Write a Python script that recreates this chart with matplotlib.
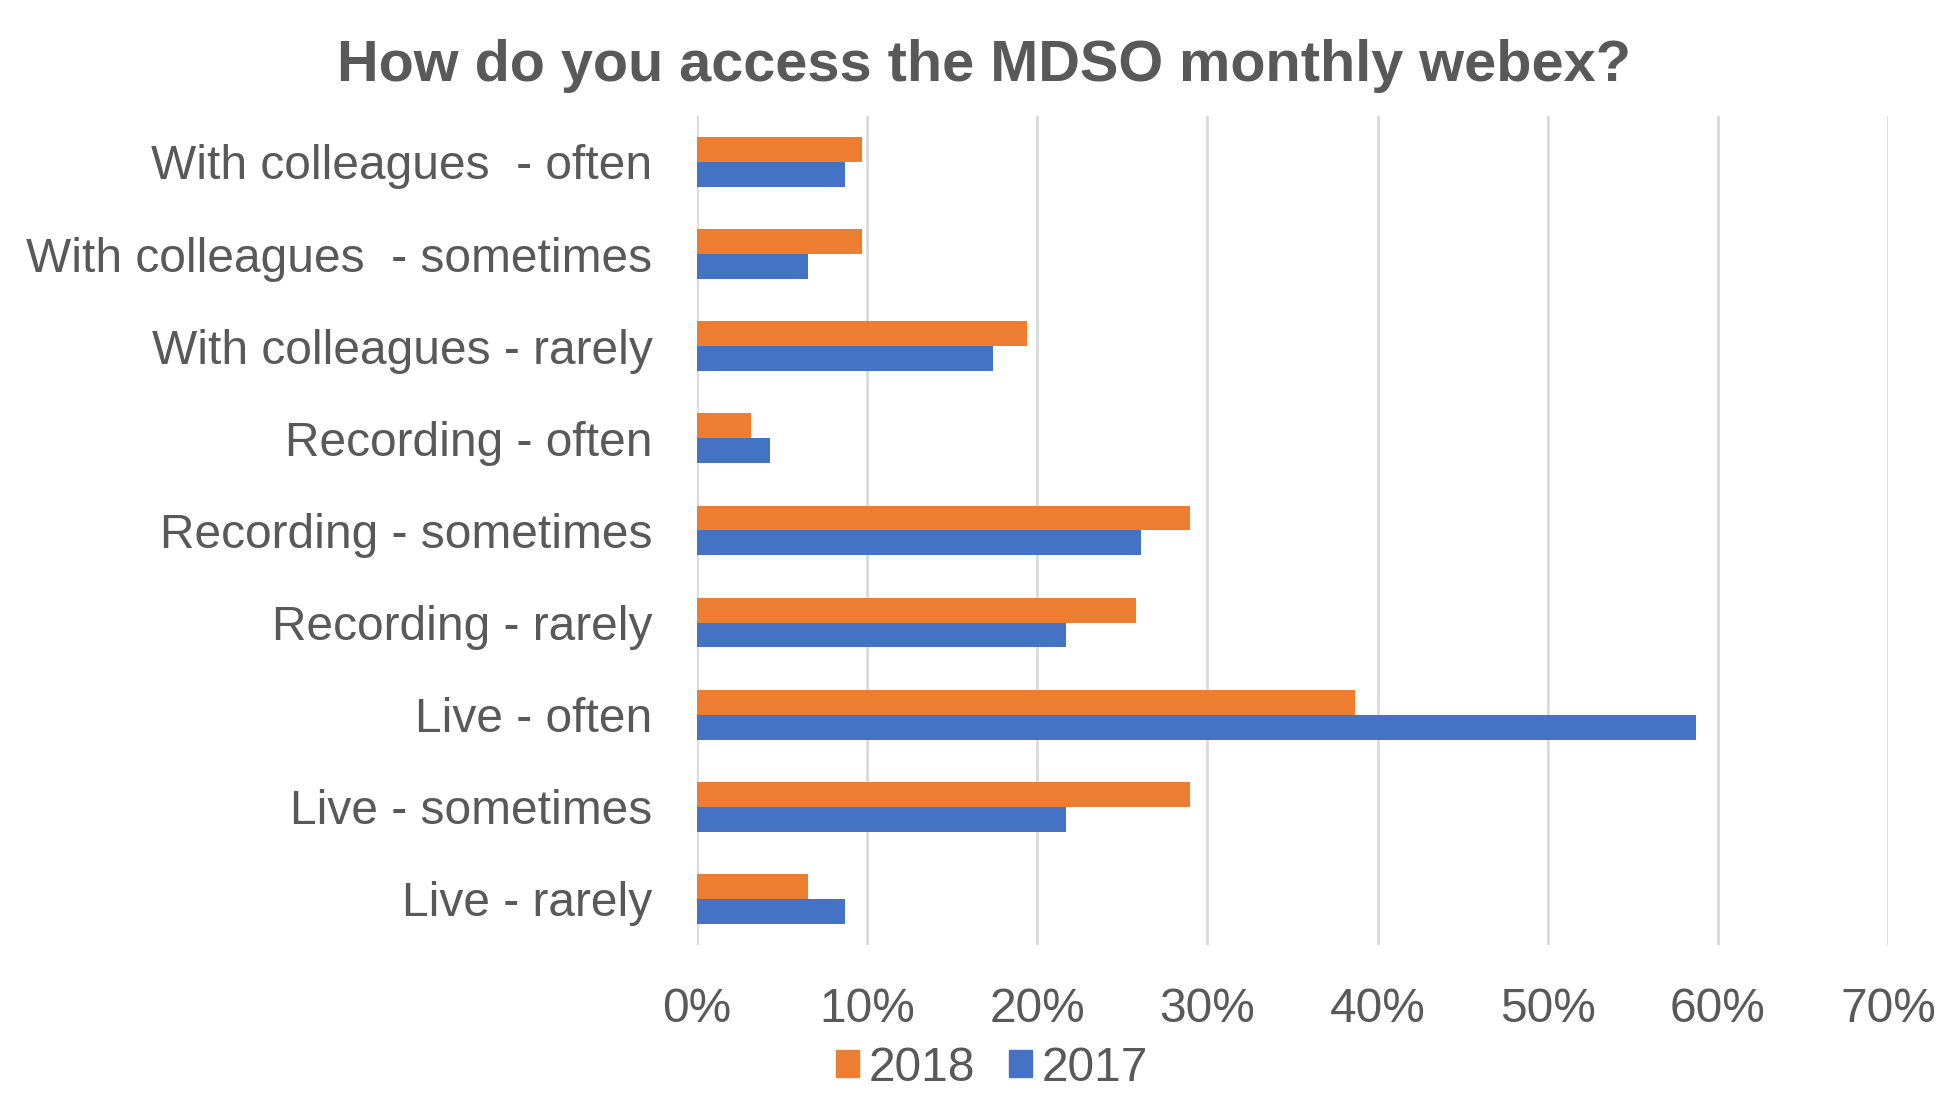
import matplotlib.pyplot as plt
import numpy as np
from matplotlib.patches import Patch
from matplotlib.ticker import PercentFormatter

categories = ["Live - rarely", "Live - sometimes", "Live - often",
              "Recording - rarely", "Recording - sometimes", "Recording - often",
              "With colleagues - rarely", "With colleagues  - sometimes",
              "With colleagues  - often"]
values_2018 = [6.5, 29.0, 38.7, 25.8, 29.0, 3.2, 19.4, 9.7, 9.7]
values_2017 = [8.7, 21.7, 58.7, 21.7, 26.1, 4.3, 17.4, 6.5, 8.7]
ticks = [0, 10, 20, 30, 40, 50, 60, 70]

orange = "#ED7D31"
blue = "#4472C4"
grey_text = "#595959"
grid_col = "#D9D9D9"

plt.rcParams['font.family'] = ['Liberation Sans', 'DejaVu Sans']

fig = plt.figure(figsize=(19.49, 10.93), dpi=100)
ax = fig.add_axes([0.3576, 0.1354, 0.6111, 0.7586])

y = np.arange(len(categories))
h = 0.27
ax.barh(y + h / 2, values_2018, height=h, color=orange, zorder=3)
ax.barh(y - h / 2, values_2017, height=h, color=blue, zorder=3)

ax.set_xlim(0, 70)
ax.set_ylim(-0.5, len(categories) - 0.5)
ax.set_xticks(ticks)
ax.xaxis.set_major_formatter(PercentFormatter(decimals=0))
ax.set_yticks(y)
ax.set_yticklabels(categories)

for s in ax.spines.values():
    s.set_visible(False)
ax.grid(axis='x', color=grid_col, linewidth=2, zorder=0)
ax.tick_params(axis='both', length=0, labelsize=34.5, labelcolor=grey_text)
ax.tick_params(axis='y', pad=32)
ax.tick_params(axis='x', pad=30)

fig.text(0.505, 0.94, "How do you access the MDSO monthly webex?",
         ha='center', va='center', fontsize=41.5, fontweight='bold', color=grey_text)

handles = [Patch(color=orange, label="2018"), Patch(color=blue, label="2017")]
fig.legend(handles=handles, loc='lower center', bbox_to_anchor=(0.509, 0.002), ncol=2,
           frameon=False, fontsize=34.5, labelcolor=grey_text,
           handlelength=0.49, handleheight=0.49, handletextpad=0.2,
           columnspacing=0.7, borderaxespad=0, borderpad=0)

fig.savefig("out.png", dpi=100)
